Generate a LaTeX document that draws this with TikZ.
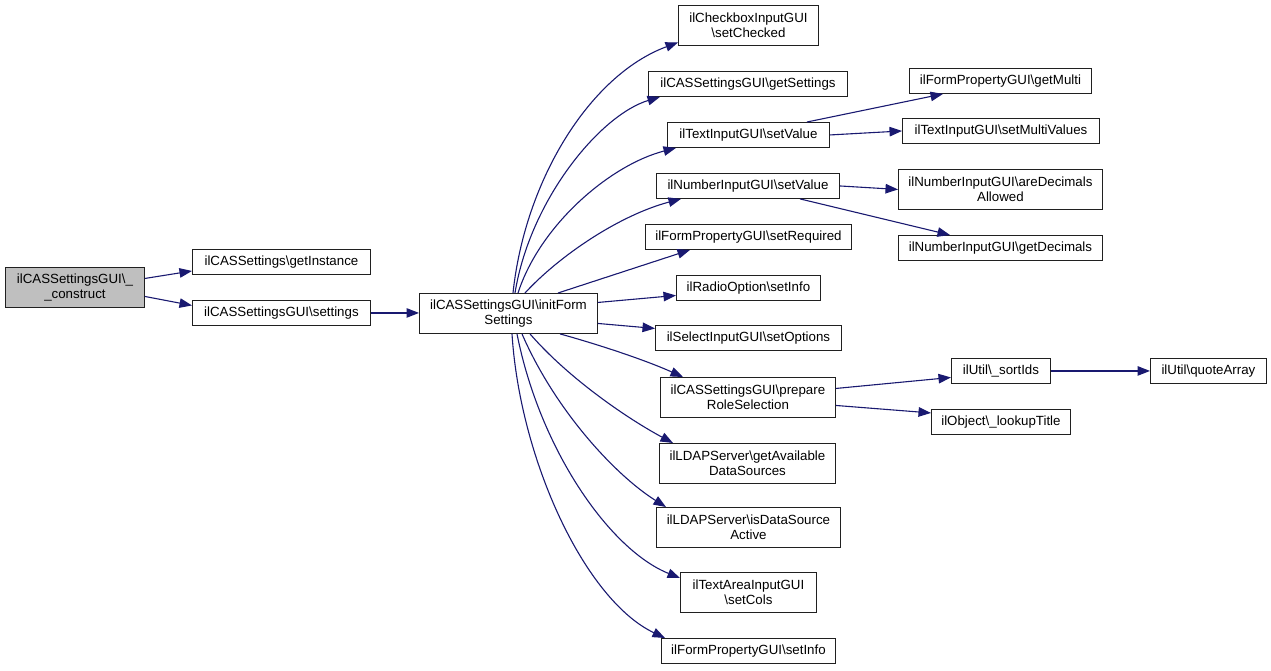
\documentclass[tikz,border=0pt]{standalone}
\usepackage{fontspec}
\setmainfont{Liberation Sans}
\usetikzlibrary{arrows.meta}
\definecolor{edgeblue}{HTML}{191970}
\definecolor{boxgray}{HTML}{BFBFBF}
\definecolor{boxline}{HTML}{202020}
\begin{document}
\begin{tikzpicture}[x=1pt,y=-1pt,
  box/.style={draw=boxline,line width=0.9pt,fill=white,inner sep=0pt,anchor=north west,
    align=center,font=\fontsize{13.3}{15.5}\selectfont},
  edge/.style={draw=edgeblue,line width=1.1pt,-{Triangle[length=12.5pt,width=9.5pt]}}]
\useasboundingbox (0,0) rectangle (1271,670);
% nodes
\node[box,fill=boxgray,minimum width=139pt,minimum height=40pt] (construct) at (5,267) {ilCASSettingsGUI\textbackslash\_\\\_construct};
\node[box,minimum width=178pt,minimum height=25pt] (getInstance) at (192,249) {ilCASSettings\textbackslash getInstance};
\node[box,minimum width=178pt,minimum height=25pt] (settings) at (192,300) {ilCASSettingsGUI\textbackslash settings};
\node[box,minimum width=178pt,minimum height=40pt] (init) at (419,293) {ilCASSettingsGUI\textbackslash initForm\\Settings};
\node[box,minimum width=140pt,minimum height=40pt] (setChecked) at (678,5) {ilCheckboxInputGUI\\\textbackslash setChecked};
\node[box,minimum width=199pt,minimum height=25pt] (getSettings) at (648,71) {ilCASSettingsGUI\textbackslash getSettings};
\node[box,minimum width=162pt,minimum height=25pt] (tv) at (667,122) {ilTextInputGUI\textbackslash setValue};
\node[box,minimum width=183pt,minimum height=25pt] (nv) at (656,173) {ilNumberInputGUI\textbackslash setValue};
\node[box,minimum width=206pt,minimum height=25pt] (setRequired) at (645,224) {ilFormPropertyGUI\textbackslash setRequired};
\node[box,minimum width=144pt,minimum height=25pt] (radio) at (676,275) {ilRadioOption\textbackslash setInfo};
\node[box,minimum width=186pt,minimum height=25pt] (setOptions) at (655,325) {ilSelectInputGUI\textbackslash setOptions};
\node[box,minimum width=175pt,minimum height=40pt] (prepare) at (660,377) {ilCASSettingsGUI\textbackslash prepare\\RoleSelection};
\node[box,minimum width=176pt,minimum height=40pt] (getAvail) at (659,443) {ilLDAPServer\textbackslash getAvailable\\DataSources};
\node[box,minimum width=184pt,minimum height=40pt] (isDS) at (656,507) {ilLDAPServer\textbackslash isDataSource\\Active};
\node[box,minimum width=136pt,minimum height=40pt] (setCols) at (680,572) {ilTextAreaInputGUI\\\textbackslash setCols};
\node[box,minimum width=174pt,minimum height=25pt] (fpSetInfo) at (661,638) {ilFormPropertyGUI\textbackslash setInfo};
\node[box,minimum width=182pt,minimum height=25pt] (getMulti) at (909,68) {ilFormPropertyGUI\textbackslash getMulti};
\node[box,minimum width=197pt,minimum height=25pt] (setMulti) at (902,118) {ilTextInputGUI\textbackslash setMultiValues};
\node[box,minimum width=204pt,minimum height=40pt] (areDec) at (898,169) {ilNumberInputGUI\textbackslash areDecimals\\Allowed};
\node[box,minimum width=204pt,minimum height=25pt] (getDec) at (898,235) {ilNumberInputGUI\textbackslash getDecimals};
\node[box,minimum width=99pt,minimum height=25pt] (sortIds) at (951,358) {ilUtil\textbackslash\_sortIds};
\node[box,minimum width=116pt,minimum height=25pt] (quoteArray) at (1150,358) {ilUtil\textbackslash quoteArray};
\node[box,minimum width=139pt,minimum height=25pt] (lookupTitle) at (931,409) {ilObject\textbackslash\_lookupTitle};
% edges
\draw[edge] ([yshift=9pt]construct.east) -- ([yshift=-9pt]getInstance.west);
\draw[edge] ([yshift=-9pt]construct.east) -- ([yshift=7.5pt]settings.west);
\draw[edge] (settings.east) -- (settings.east -| init.west);
\draw[edge] ([xshift=94pt]init.north west) .. controls (525,180) and (590,75) .. ([yshift=-17pt]setChecked.west);
\draw[edge] ([xshift=96pt]init.north west) .. controls (530,200) and (600,115) .. ([xshift=12pt]getSettings.south west);
\draw[edge] ([xshift=99pt]init.north west) .. controls (540,225) and (610,165) .. ([xshift=9pt]tv.south west);
\draw[edge] ([xshift=106pt]init.north west) .. controls (560,255) and (620,215) .. ([xshift=25pt]nv.south west);
\draw[edge] ([xshift=139pt]init.north west) -- ([xshift=45pt]setRequired.south west);
\draw[edge] ([yshift=11pt]init.east) -- ([yshift=-7.5pt]radio.west);
\draw[edge] ([yshift=-10pt]init.east) -- ([yshift=9.5pt]setOptions.west);
\draw[edge] ([xshift=141pt]init.south west) .. controls (600,345) and (645,360) .. ([xshift=23pt]prepare.north west);
\draw[edge] ([xshift=111pt]init.south west) .. controls (570,380) and (630,420) .. ([xshift=14pt]getAvail.north west);
\draw[edge] ([xshift=103pt]init.south west) .. controls (555,410) and (615,475) .. ([xshift=10pt]isDS.north west);
\draw[edge] ([xshift=98pt]init.south west) .. controls (540,450) and (610,550) .. ([yshift=-6pt]setCols.north west);
\draw[edge] ([xshift=93pt]init.south west) .. controls (520,460) and (585,600) .. ([xshift=4pt]fpSetInfo.north west);
\draw[edge] ([xshift=140pt]tv.north west) -- ([xshift=34pt]getMulti.south west);
\draw[edge] (tv.east) -- (setMulti.west);
\draw[edge] (nv.east) -- (areDec.west);
\draw[edge] ([xshift=144pt]nv.south west) -- ([xshift=52pt]getDec.north west);
\draw[edge] ([yshift=9pt]prepare.east) -- ([yshift=-6.5pt]sortIds.west);
\draw[edge] ([yshift=-8pt]prepare.east) -- ([yshift=9pt]lookupTitle.west);
\draw[edge] (sortIds.east) -- (quoteArray.west);
\end{tikzpicture}
\end{document}
